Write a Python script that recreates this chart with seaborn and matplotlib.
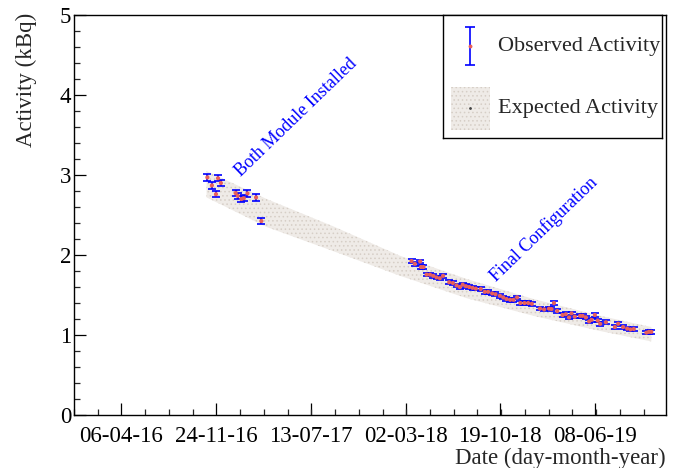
import numpy as np
import pandas as pd
import matplotlib
matplotlib.use("Agg")
import matplotlib.pyplot as plt
import matplotlib.dates as mdates
from matplotlib.patches import Rectangle
from datetime import datetime
import seaborn as sns

# ---------------- data ----------------
obs_dates_1 = ["2016-11-02", "2016-11-13", "2016-11-23", "2016-11-28", "2016-12-05",
               "2017-01-10", "2017-01-15", "2017-01-24", "2017-01-30", "2017-02-08",
               "2017-03-01", "2017-03-14"]
obs_vals_1 = [2.97, 2.87, 2.76, 2.96, 2.90, 2.775, 2.74, 2.70, 2.71, 2.77, 2.72, 2.425]
obs_err_1 = 0.04

obs_dates_2 = ["2018-03-16", "2018-03-24", "2018-04-06", "2018-04-08", "2018-04-14",
               "2018-04-22", "2018-04-30", "2018-05-08", "2018-05-16", "2018-05-24",
               "2018-06-01", "2018-06-16", "2018-06-25", "2018-07-04", "2018-07-12",
               "2018-07-19", "2018-07-27", "2018-08-04", "2018-08-12", "2018-08-20",
               "2018-09-01", "2018-09-11", "2018-09-19", "2018-09-29", "2018-10-07",
               "2018-10-18", "2018-10-26", "2018-11-03", "2018-11-12", "2018-11-20",
               "2018-11-29", "2018-12-07", "2018-12-17", "2018-12-26", "2019-01-04",
               "2019-01-24", "2019-02-03", "2019-02-15", "2019-02-21", "2019-02-27",
               "2019-03-07", "2019-03-20", "2019-03-28", "2019-04-05", "2019-04-11",
               "2019-04-19", "2019-05-02", "2019-05-08", "2019-05-16", "2019-05-24",
               "2019-05-30", "2019-06-07", "2019-06-14", "2019-06-20", "2019-07-04",
               "2019-07-26", "2019-08-03", "2019-08-15", "2019-08-25", "2019-09-02",
               "2019-09-10", "2019-10-11", "2019-10-17", "2019-10-23"]
obs_vals_2 = [1.925, 1.89, 1.92, 1.85, 1.85,
              1.755, 1.755, 1.74, 1.72, 1.71,
              1.74, 1.66, 1.65, 1.62, 1.60,
              1.63, 1.61, 1.60, 1.59, 1.58,
              1.575, 1.54, 1.54, 1.52, 1.51,
              1.49, 1.47, 1.45, 1.44, 1.44,
              1.47, 1.40, 1.40, 1.40, 1.39,
              1.33, 1.32, 1.33, 1.325, 1.40,
              1.30, 1.25, 1.26, 1.22, 1.27,
              1.23, 1.24, 1.24, 1.22, 1.17,
              1.19, 1.25, 1.18, 1.14, 1.16,
              1.10, 1.14, 1.10, 1.08, 1.07,
              1.075, 1.03, 1.04, 1.04]
obs_err_2 = 0.022

band_dates = ["2016-10-31", "2017-03-27", "2017-09-05", "2018-02-16",
              "2018-07-29", "2019-01-08", "2019-06-20", "2019-10-23"]
band_upper = [3.05, 2.70, 2.36, 1.99, 1.70, 1.45, 1.24, 1.10]
band_lower = [2.72, 2.35, 2.05, 1.74, 1.46, 1.24, 1.05, 0.92]

tick_labels = ["06-04-16", "24-11-16", "13-07-17", "02-03-18", "19-10-18", "08-06-19"]
y_ticks = [0, 1, 2, 3, 4, 5]

# ---------------- frame ----------------
obs = pd.DataFrame({
    "date": pd.to_datetime(obs_dates_1 + obs_dates_2),
    "activity": obs_vals_1 + obs_vals_2,
    "err": [obs_err_1] * len(obs_vals_1) + [obs_err_2] * len(obs_vals_2),
})
band = pd.DataFrame({"date": pd.to_datetime(band_dates),
                     "upper": band_upper, "lower": band_lower})

sns.set_theme(style="ticks")
plt.rcParams["font.family"] = ["Liberation Serif", "DejaVu Serif"]
plt.rcParams["hatch.linewidth"] = 0.6

fig = plt.figure(figsize=(6.89, 4.68), dpi=100)
ax = fig.add_axes([0.1074, 0.1132, 0.8593, 0.8547])

band_face = "#efebe7"
band_hatch = "#d6cec6"
ax.fill_between(band["date"], band["lower"], band["upper"], facecolor=band_face,
                edgecolor=band_hatch, hatch="....", linewidth=0, zorder=1)

ax.errorbar(obs["date"], obs["activity"], yerr=obs["err"], fmt="none",
            ecolor="#0000ff", elinewidth=1.2, capsize=2.6, capthick=1.2, zorder=3)
sns.scatterplot(data=obs, x="date", y="activity", ax=ax, color="#e8605a",
                s=9, edgecolor="none", zorder=4, legend=False)

# annotations
ax.text(mdates.date2num(datetime(2017, 1, 24)), 2.975, "Both Module Installed",
        rotation=44, rotation_mode="anchor", ha="left", va="baseline",
        color="#0000ff", fontsize=13.0)
ax.text(mdates.date2num(datetime(2018, 10, 8)), 1.655, "Final Configuration",
        rotation=44, rotation_mode="anchor", ha="left", va="baseline",
        color="#0000ff", fontsize=13.0)

# axes
ax.set_xlim(datetime(2015, 12, 12), datetime(2019, 11, 28))
ax.set_ylim(0, 5)

major = [mdates.date2num(datetime.strptime(t, "%d-%m-%y")) for t in tick_labels]
step = (major[1] - major[0]) / 4.0
lo, hi = ax.get_xlim()
minor = np.arange(major[0] - 8 * step, hi + step, step)
minor = [m for m in minor if lo <= m <= hi]
ax.set_xticks(major)
ax.set_xticklabels(tick_labels)
ax.set_xticks(minor, minor=True)
ax.set_yticks(y_ticks)
ax.set_yticklabels([str(v) for v in y_ticks])
ax.set_yticks(np.arange(0, 5.01, 0.2), minor=True)

ax.tick_params(which="major", direction="in", length=8.6, width=0.9,
               labelsize=16.5, top=False, right=False, colors="black")
ax.tick_params(which="minor", direction="in", length=4.3, width=0.9,
               top=False, right=False)
ax.tick_params(axis="x", which="major", pad=8)
ax.tick_params(axis="y", which="major", pad=2)
for s in ax.spines.values():
    s.set_color("black")
    s.set_linewidth(1.0)

ax.set_xlabel("Date (day-month-year)", fontsize=16.5, loc="right")
ax.xaxis.set_label_coords(1.0, -0.083)
ax.set_ylabel("Activity (kBq)", fontsize=16.5, loc="top")
ax.yaxis.set_label_coords(-0.062, 1.005)

# legend box
lax = fig.add_axes([0.6425, 0.7051, 0.3183, 0.2628])
lax.set_xlim(0, 1)
lax.set_ylim(0, 1)
lax.set_xticks([])
lax.set_yticks([])
lax.set_facecolor("white")
for s in lax.spines.values():
    s.set_color("black")
    s.set_linewidth(1.0)
lax.errorbar([0.1245], [0.748], yerr=[0.155], fmt="none", ecolor="#0000ff",
             elinewidth=1.2, capsize=3.6, capthick=1.2)
lax.plot([0.1245], [0.748], "o", color="#e8605a", ms=1.8)
lax.add_patch(Rectangle((0.0365, 0.065), 0.18, 0.352, facecolor=band_face,
                        edgecolor=band_hatch, hatch="....", linewidth=0))
lax.plot([0.1265], [0.241], "o", color="#444444", ms=1.0)
lax.text(0.252, 0.748, "Observed Activity", va="center", ha="left", fontsize=16)
lax.text(0.252, 0.244, "Expected Activity", va="center", ha="left", fontsize=16)

fig.savefig("out.png", dpi=100)
